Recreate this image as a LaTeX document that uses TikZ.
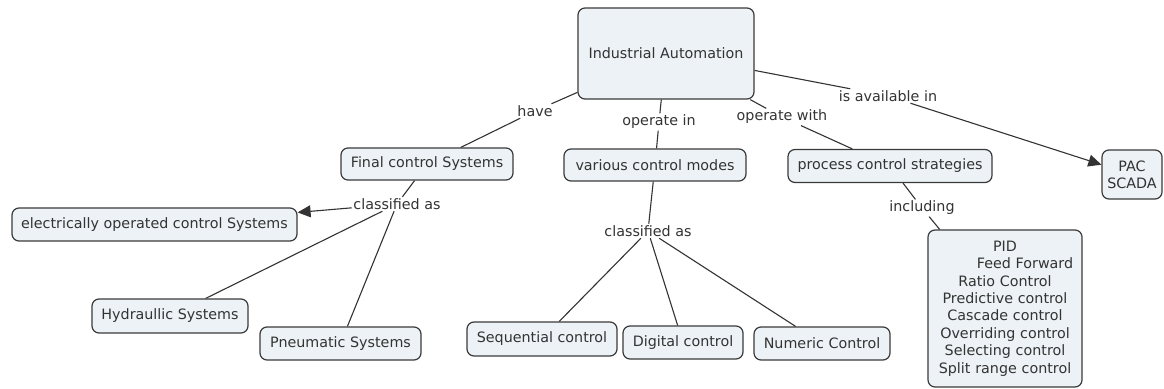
\documentclass[tikz,border=0pt]{standalone}
\usepackage{fontspec}
\setmainfont{DejaVu Sans}
\usetikzlibrary{arrows.meta}
\definecolor{boxfill}{HTML}{ECF2F5}
\definecolor{boxline}{HTML}{3A3A3A}
\definecolor{txt}{HTML}{333333}
\tikzset{
  concept/.style={draw=boxline, fill=boxfill, line width=1.2pt, rounded corners=7pt,
    inner sep=2pt, text=txt, font=\fontsize{14.3}{17.4}\selectfont, align=center},
  linklabel/.style={inner sep=1.5pt, text=txt, font=\fontsize{14.3}{17.4}\selectfont},
  link/.style={draw=txt, line width=1.1pt},
  arrowlink/.style={link, -{Triangle[length=13pt,width=12pt]}}
}
\begin{document}
\begin{tikzpicture}[x=1pt,y=-1pt]
\useasboundingbox[fill=white] (0,0) rectangle (1164,388);
% concepts
\node[concept, minimum width=176pt, minimum height=91pt] (ia) at (666,53.5) {Industrial Automation};
\node[concept, minimum width=172pt, minimum height=32pt] (fcs) at (427,164) {Final control Systems};
\node[concept, minimum width=182pt, minimum height=32pt] (vcm) at (655,165) {various control modes};
\node[concept, minimum width=204pt, minimum height=33pt] (pcs) at (890,166) {process control strategies};
\node[concept, minimum width=60pt, minimum height=49pt] (pac) at (1132,174.5) {PAC\\SCADA};
\node[concept, minimum width=285pt, minimum height=33pt] (eoc) at (154.5,224.5) {electrically operated control Systems};
\node[concept, minimum width=156pt, minimum height=34pt] (hyd) at (170,316) {Hydraullic Systems};
\node[concept, minimum width=161pt, minimum height=33pt] (pne) at (340.5,343.5) {Pneumatic Systems};
\node[concept, minimum width=150pt, minimum height=34pt] (seq) at (542,339) {Sequential control};
\node[concept, minimum width=120pt, minimum height=33pt] (dig) at (683,342.5) {Digital control};
\node[concept, minimum width=136pt, minimum height=33pt] (num) at (822,343.5) {Numeric Control};
\node[concept, text width=150pt, minimum height=157pt] (pid) at (1005,308.5) {PID\\\hspace*{40pt}Feed Forward\\Ratio Control\\Predictive control\\Cascade control\\Overriding control\\Selecting control\\Split range control};
% link labels
\node[linklabel] (have) at (535,111) {have};
\node[linklabel] (opin) at (659,122) {operate in};
\node[linklabel] (opwith) at (782,117) {operate with};
\node[linklabel] (avail) at (888,96) {is available in};
\node[linklabel] (clsA) at (397,204) {classified as};
\node[linklabel] (clsB) at (648,231) {classified as};
\node[linklabel] (incl) at (922,208) {including};
% connectors
\draw[link] (ia) -- (have);
\draw[link] (have) -- (fcs);
\draw[link] (ia) -- (opin);
\draw[link] (opin) -- (vcm);
\draw[link] (ia) -- (opwith);
\draw[link] (opwith) -- (pcs);
\draw[link] (ia) -- (avail);
\draw[arrowlink] (avail) -- (pac);
\draw[link] (fcs) -- (clsA);
\draw[arrowlink] (clsA) -- (eoc);
\draw[link] (clsA) -- (hyd);
\draw[link] (clsA) -- (pne);
\draw[link] (vcm) -- (clsB);
\draw[link] (clsB) -- (seq);
\draw[link] (clsB) -- (dig);
\draw[link] (clsB) -- (num);
\draw[link] (pcs) -- (incl);
\draw[link] (incl) -- (pid);
\end{tikzpicture}
\end{document}
